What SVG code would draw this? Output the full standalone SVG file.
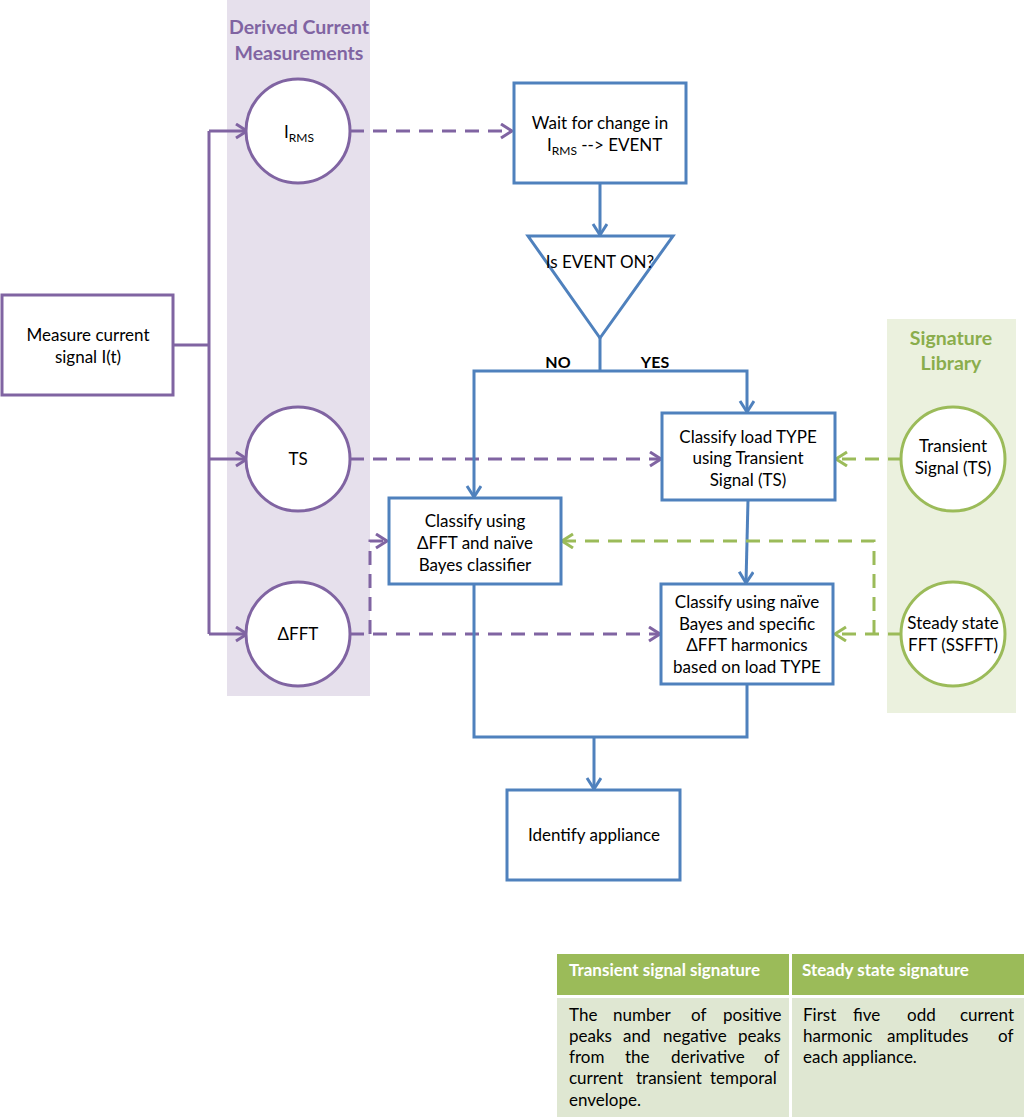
<svg xmlns="http://www.w3.org/2000/svg" width="1024" height="1117" viewBox="0 0 1024 1117">
<defs>
<marker id="ap" markerUnits="userSpaceOnUse" markerWidth="16" markerHeight="18" refX="13" refY="8" orient="auto"><path d="M2,1 L13,8 L2,15" fill="none" stroke="#8064a2" stroke-width="3"/></marker>
<marker id="ab" markerUnits="userSpaceOnUse" markerWidth="16" markerHeight="18" refX="13" refY="8" orient="auto"><path d="M2,1 L13,8 L2,15" fill="none" stroke="#4f81bd" stroke-width="3"/></marker>
<marker id="ag" markerUnits="userSpaceOnUse" markerWidth="16" markerHeight="18" refX="13" refY="8" orient="auto"><path d="M2,1 L13,8 L2,15" fill="none" stroke="#9bbb59" stroke-width="3"/></marker>
</defs>
<style>
text{font-family:Lato,"Open Sans","Liberation Sans",sans-serif;font-size:17px;fill:#000}
.c{text-anchor:middle}
.b{font-weight:bold;font-size:16px}
.tp{font-family:Lato,"Liberation Sans",sans-serif;font-size:19.5px;font-weight:bold;fill:#8064a2;text-anchor:middle}
.tg{font-family:Lato,"Liberation Sans",sans-serif;font-size:19.5px;font-weight:bold;fill:#8aad4c;text-anchor:middle}
.sub{font-size:12px}
.pn{fill:#fff;stroke:#8064a2;stroke-width:3}
.bn{fill:#fff;stroke:#4f81bd;stroke-width:3}
.gn{fill:#fff;stroke:#9bbb59;stroke-width:3}
.pl{fill:none;stroke:#8064a2;stroke-width:3}
.pd{fill:none;stroke:#8064a2;stroke-width:3;stroke-dasharray:14 9}
.bl{fill:none;stroke:#4f81bd;stroke-width:3}
.gd{fill:none;stroke:#9bbb59;stroke-width:3;stroke-dasharray:14 9}
.th{font-weight:bold;fill:#fff}
</style>
<rect width="1024" height="1117" fill="#fff"/>
<g id="bands">
<rect x="227" y="0" width="143" height="696" fill="#e6e0ec"/>
<text class="tp" x="299" y="34">Derived Current</text>
<text class="tp" x="299" y="60">Measurements</text>
<rect x="887" y="319" width="129" height="394" fill="#ebf1de"/>
<text class="tg" x="951" y="345">Signature</text>
<text class="tg" x="951" y="370">Library</text>
</g>
<g id="connectors">
<path class="pl" d="M173,345 H209"/>
<path class="pl" d="M209,131 V634"/>
<path class="pl" d="M209,131 H247" marker-end="url(#ap)"/>
<path class="pl" d="M209,459 H247" marker-end="url(#ap)"/>
<path class="pl" d="M209,634 H247" marker-end="url(#ap)"/>
<path class="pd" d="M350,131 H512" marker-end="url(#ap)"/>
<path class="pd" d="M350,459 H661" marker-end="url(#ap)"/>
<path class="pd" d="M350,634 H660" marker-end="url(#ap)"/>
<path class="pd" d="M370,634 V541 H387" marker-end="url(#ap)"/>
<path class="bl" d="M600,183 V235" marker-end="url(#ab)"/>
<path class="bl" d="M600,338 V371"/>
<path class="bl" d="M600,371 H474 V497" marker-end="url(#ab)"/>
<path class="bl" d="M600,371 H747 V412" marker-end="url(#ab)"/>
<path class="bl" d="M748,500 L746,583" marker-end="url(#ab)"/>
<path class="bl" d="M474,584 V737 H747 V684"/>
<path class="bl" d="M594,737 V789" marker-end="url(#ab)"/>
<path class="gd" d="M902,459 H836" marker-end="url(#ag)"/>
<path class="gd" d="M902,634 H835" marker-end="url(#ag)"/>
<path class="gd" d="M874,634 V541 H562" marker-end="url(#ag)"/>
<text class="b c" x="558" y="368">NO</text>
<text class="b c" x="655" y="368">YES</text>
</g>
<g id="measure">
<rect class="pn" x="2" y="295" width="171" height="100"/>
<text class="c" x="88" y="341">Measure current</text>
<text class="c" x="88" y="363">signal I(t)</text>
</g>
<g id="irms">
<circle class="pn" cx="298" cy="131" r="52"/>
<text class="c" x="299" y="138">I<tspan class="sub" dy="4">RMS</tspan></text>
</g>
<g id="ts">
<circle class="pn" cx="298" cy="459" r="52"/>
<text class="c" x="298" y="465">TS</text>
</g>
<g id="dfft">
<circle class="pn" cx="298" cy="634" r="52"/>
<text class="c" x="298" y="640">ΔFFT</text>
</g>
<g id="wait">
<rect class="bn" x="514" y="83" width="172" height="100"/>
<text class="c" x="600" y="129">Wait for change in</text>
<text x="547" y="151">I<tspan class="sub" dy="4">RMS</tspan><tspan dy="-4"> --&gt;  EVENT</tspan></text>
</g>
<g id="decision">
<polygon class="bn" points="528,236 673,236 600,338"/>
<text class="c" x="600" y="268">Is EVENT ON?</text>
</g>
<g id="classify-type">
<rect class="bn" x="662" y="413" width="173" height="87"/>
<text class="c" x="748" y="443">Classify load TYPE</text>
<text class="c" x="748" y="464">using Transient</text>
<text class="c" x="748" y="486">Signal (TS)</text>
</g>
<g id="classify-fft">
<rect class="bn" x="389" y="498" width="172" height="86"/>
<text class="c" x="475" y="527">Classify using</text>
<text class="c" x="475" y="549">ΔFFT and naïve</text>
<text class="c" x="475" y="571">Bayes classifier</text>
</g>
<g id="classify-specific">
<rect class="bn" x="661" y="584" width="172" height="100"/>
<text class="c" x="747" y="608">Classify using naïve</text>
<text class="c" x="747" y="630">Bayes and specific</text>
<text class="c" x="747" y="651">ΔFFT harmonics</text>
<text class="c" x="747" y="673">based on load TYPE</text>
</g>
<g id="identify">
<rect class="bn" x="507" y="790" width="173" height="90"/>
<text class="c" x="594" y="841">Identify appliance</text>
</g>
<g id="sig-ts">
<circle class="gn" cx="953" cy="459" r="52"/>
<text class="c" x="953" y="452">Transient</text>
<text class="c" x="953" y="474">Signal (TS)</text>
</g>
<g id="sig-ss">
<circle class="gn" cx="953" cy="634" r="52"/>
<text class="c" x="953" y="629">Steady state</text>
<text class="c" x="953" y="651">FFT (SSFFT)</text>
</g>
<g id="table">
<rect x="557" y="954" width="232" height="41" fill="#9bbb59"/>
<rect x="792" y="954" width="232" height="41" fill="#9bbb59"/>
<rect x="557" y="998" width="232" height="119" fill="#dfe7d2"/>
<rect x="792" y="998" width="232" height="119" fill="#dfe7d2"/>
<text class="th" x="569" y="976">Transient signal signature</text>
<text class="th" x="802" y="976">Steady state signature</text>
<text y="1021"><tspan x="569">The</tspan><tspan x="613">number</tspan><tspan x="691">of</tspan><tspan x="723">positive</tspan></text>
<text y="1042"><tspan x="569">peaks</tspan><tspan x="623">and</tspan><tspan x="663">negative</tspan><tspan x="738">peaks</tspan></text>
<text y="1063"><tspan x="569">from</tspan><tspan x="625">the</tspan><tspan x="671">derivative</tspan><tspan x="764">of</tspan></text>
<text y="1084"><tspan x="569">current</tspan><tspan x="636">transient</tspan><tspan x="710">temporal</tspan></text>
<text x="569" y="1106">envelope.</text>
<text y="1021"><tspan x="803">First</tspan><tspan x="853">five</tspan><tspan x="907">odd</tspan><tspan x="960">current</tspan></text>
<text y="1042"><tspan x="803">harmonic</tspan><tspan x="887">amplitudes</tspan><tspan x="998">of</tspan></text>
<text x="803" y="1063">each appliance.</text>
</g>
</svg>
